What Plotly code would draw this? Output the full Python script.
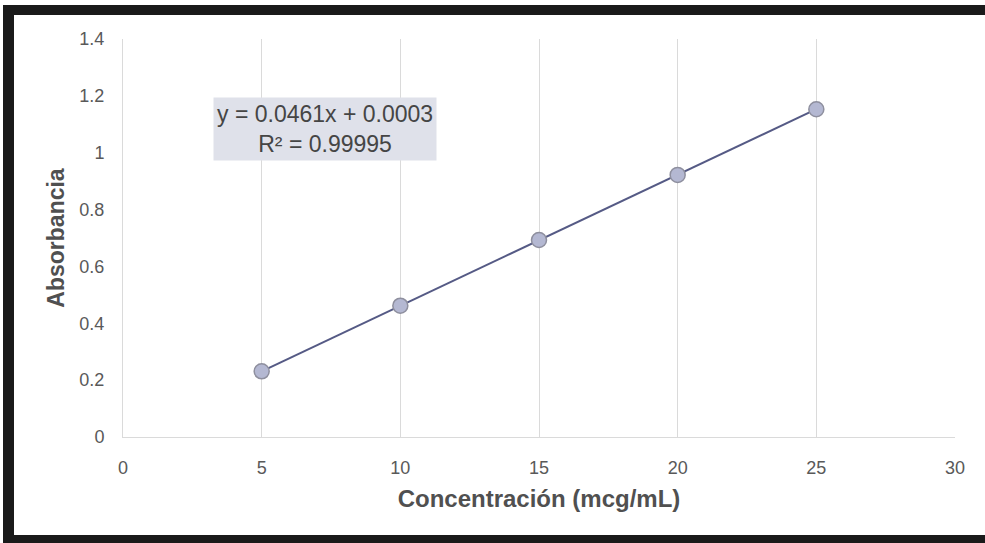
import plotly.graph_objects as go

conc = [5, 10, 15, 20, 25]
absorb = [0.231, 0.462, 0.693, 0.922, 1.153]
x_ticks = [0, 5, 10, 15, 20, 25, 30]
y_ticks = [0, 0.2, 0.4, 0.6, 0.8, 1.0, 1.2, 1.4]
y_tick_labels = ["0", "0.2", "0.4", "0.6", "0.8", "1", "1.2", "1.4"]
eq_text = "y = 0.0461x + 0.0003<br>R² = 0.99995"

W, H = 985, 543
ML, MR, MT, MB = 123, 30, 39, 106
PW, PH = W - ML - MR, H - MT - MB
FONT = "Liberation Sans, Arial, sans-serif"

def px(xp):
    return (xp - ML) / PW

def py(yp):
    return 1 - (yp - MT) / PH

fig = go.Figure()
fig.add_trace(go.Scatter(
    x=conc, y=absorb, mode="lines+markers",
    line=dict(color="#555a85", width=2),
    marker=dict(size=15, color="#b4b8d2", line=dict(color="#8e8f9e", width=1.5)),
    showlegend=False,
))

fig.add_annotation(
    x=7.28, y=1.083, xref="x", yref="y", text=eq_text, showarrow=False,
    font=dict(family=FONT, size=23, color="#454545"),
    bgcolor="#dfe1ea", borderpad=3, align="center",
)

shapes = [
    dict(type="rect", xref="paper", yref="paper", x0=px(3), x1=px(14), y0=py(543), y1=py(5),
         fillcolor="#1a1a1a", line=dict(width=0), layer="above"),
    dict(type="rect", xref="paper", yref="paper", x0=px(3), x1=px(985), y0=py(15), y1=py(5),
         fillcolor="#1a1a1a", line=dict(width=0), layer="above"),
    dict(type="rect", xref="paper", yref="paper", x0=px(3), x1=px(985), y0=py(543), y1=py(535),
         fillcolor="#1a1a1a", line=dict(width=0), layer="above"),
]

fig.update_layout(
    width=W, height=H,
    margin=dict(l=ML, r=MR, t=MT, b=MB),
    paper_bgcolor="white", plot_bgcolor="white",
    font=dict(family=FONT, color="#595959"),
    shapes=shapes,
    xaxis=dict(
        range=[0, 30], tickvals=x_ticks, ticktext=[str(v) for v in x_ticks],
        showgrid=True, gridcolor="#dadada", gridwidth=1,
        zeroline=False, showline=True, linecolor="#dadada", linewidth=1,
        tickfont=dict(family=FONT, size=18, color="#595959"), ticks="", ticklabelstandoff=14,
        title=dict(text="<b>Concentración (mcg/mL)</b>", font=dict(family=FONT, size=24, color="#505050"), standoff=13),
    ),
    yaxis=dict(
        range=[0, 1.4], tickvals=y_ticks, ticktext=y_tick_labels,
        showgrid=False, zeroline=False, showline=True, linecolor="#dadada", linewidth=1,
        tickfont=dict(family=FONT, size=18, color="#595959"), ticks="", ticklabelstandoff=14,
        title=dict(text="<b>Absorbancia</b>", font=dict(family=FONT, size=23, color="#505050"), standoff=8),
    ),
)

fig.write_html("out.html")
